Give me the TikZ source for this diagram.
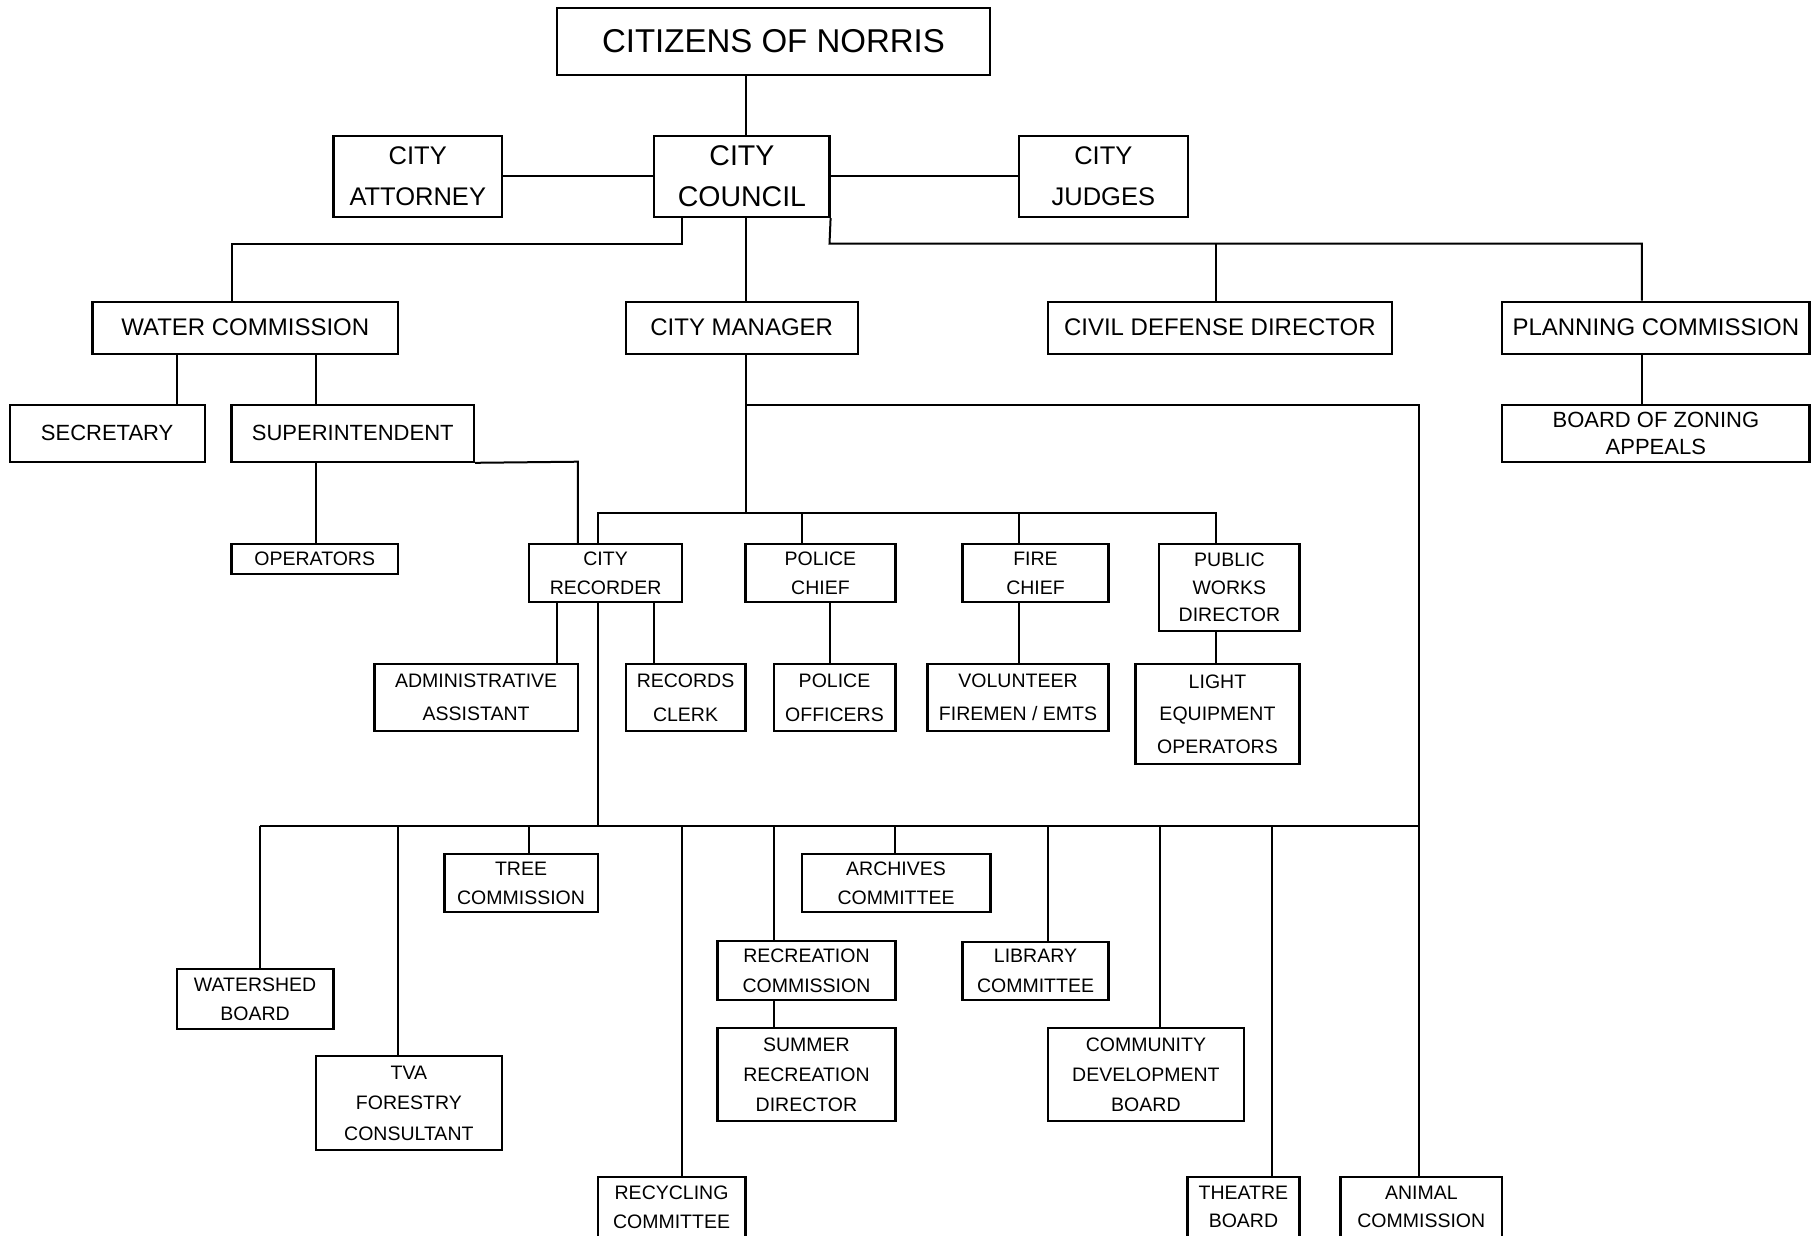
\documentclass[tikz,border=0pt]{standalone}
\usepackage{fontspec}
\setmainfont{Liberation Sans}
\newcommand{\orgbox}[8]{%
  \pgfmathsetmacro{\obcx}{(#2+#4)/2}%
  \pgfmathsetmacro{\obcy}{(#3+#5)/2}%
  \pgfmathsetmacro{\obw}{#4-#2}%
  \pgfmathsetmacro{\obh}{#5-#3}%
  \node[box, minimum width=\obw pt, minimum height=\obh pt, font=\fontsize{#6}{#7}\selectfont] (#1) at (\obcx,\obcy) {#8};}
\begin{document}
\begin{tikzpicture}[x=1pt,y=-1pt,
  box/.style={draw, line width=2.2pt, inner sep=0pt, align=center, rectangle},
  conn/.style={line width=2pt}]
\useasboundingbox (0,0) rectangle (1816,1235);
% ---------- boxes ----------
\orgbox{citizens}{557}{8}{990}{75}{33}{40}{CITIZENS OF NORRIS}
\orgbox{attorney}{333.5}{135.7}{502}{217}{25.5}{40.5}{CITY\\ATTORNEY}
\orgbox{council}{654.3}{135.7}{829.5}{217}{28.5}{40.7}{CITY\\COUNCIL}
\orgbox{judges}{1018.6}{135.7}{1188}{217}{25.5}{40.5}{CITY\\JUDGES}
\orgbox{water}{92.5}{301.7}{398}{353.7}{24}{29}{WATER COMMISSION}
\orgbox{manager}{625.6}{301.7}{857.8}{353.7}{24}{29}{CITY MANAGER}
\orgbox{civil}{1047.8}{301.7}{1391.8}{353.7}{24}{29}{CIVIL DEFENSE DIRECTOR}
\orgbox{planning}{1502.2}{301.7}{1809.5}{353.7}{24}{29}{PLANNING COMMISSION}
\orgbox{secretary}{9.6}{405}{204.7}{461.7}{22}{27}{SECRETARY}
\orgbox{super}{231.5}{405}{474}{461.7}{22}{27}{SUPERINTENDENT}
\orgbox{boza}{1502.2}{405}{1809.5}{461.7}{22}{26.6}{BOARD OF ZONING\\APPEALS}
\orgbox{operators}{231.5}{544.3}{398}{574}{19.5}{29}{OPERATORS}
\orgbox{recorder}{529.3}{544.3}{681.8}{602}{19.5}{29}{CITY\\RECORDER}
\orgbox{police}{745.5}{544.3}{895.4}{602}{19.5}{29}{POLICE\\CHIEF}
\orgbox{fire}{962.5}{544.3}{1108.5}{602}{19.5}{29}{FIRE\\CHIEF}
\orgbox{public}{1159.3}{544.3}{1299.5}{631}{19.5}{27.5}{PUBLIC\\WORKS\\DIRECTOR}
\orgbox{admin}{374.4}{664.3}{577.8}{730.7}{19.5}{33}{ADMINISTRATIVE\\ASSISTANT}
\orgbox{records}{625.6}{664.3}{745.5}{730.7}{19.5}{34}{RECORDS\\CLERK}
\orgbox{officers}{773.6}{664.3}{895.4}{730.7}{19.5}{34}{POLICE\\OFFICERS}
\orgbox{volunteer}{927.5}{664.3}{1108.5}{730.7}{19.5}{33}{VOLUNTEER\\FIREMEN / EMTS}
\orgbox{light}{1135.4}{664.3}{1299.5}{764}{19.5}{32.5}{LIGHT\\EQUIPMENT\\OPERATORS}
\orgbox{tree}{444.5}{854.3}{597.6}{912}{19.5}{29}{TREE\\COMMISSION}
\orgbox{archives}{801.7}{854.3}{990.4}{912}{19.5}{29}{ARCHIVES\\COMMITTEE}
\orgbox{watershed}{176.7}{969.3}{333.5}{1029}{19.5}{29}{WATERSHED\\BOARD}
\orgbox{recreation}{717.5}{941.3}{895.4}{1000}{19.5}{30}{RECREATION\\COMMISSION}
\orgbox{library}{962.5}{941.7}{1108.5}{1000}{19.5}{30}{LIBRARY\\COMMITTEE}
\orgbox{tva}{315.7}{1056.3}{502}{1150}{19.5}{30.5}{TVA\\FORESTRY\\CONSULTANT}
\orgbox{summer}{717.5}{1028.3}{895.4}{1121}{19.5}{30}{SUMMER\\RECREATION\\DIRECTOR}
\orgbox{community}{1047.8}{1028.3}{1244}{1121}{19.5}{30}{COMMUNITY\\DEVELOPMENT\\BOARD}
\orgbox{recycling}{597.6}{1177.3}{745.5}{1237}{19.5}{28.4}{RECYCLING\\COMMITTEE}
\orgbox{theatre}{1187.4}{1177.3}{1299.5}{1237}{19.5}{28.4}{THEATRE\\BOARD}
\orgbox{animal}{1340.4}{1177.3}{1502.2}{1237}{19.5}{28.4}{ANIMAL\\COMMISSION}
% ---------- guide coordinates ----------
\coordinate (cX) at (745.5,0);
\coordinate (k1) at (681.8,243.7);
\coordinate (k2) at (231.5,243.7);
\coordinate (k3) at (829.5,243.7);
\coordinate (k4) at (1641.8,243.7);
\coordinate (k5) at (1216,243.7);
\coordinate (xSec) at (176.7,0);
\coordinate (xSup) at (315.7,0);
\coordinate (k6) at (577.8,461.7);
\coordinate (k7) at (745.5,512.7);
\coordinate (k8) at (597.6,512.7);
\coordinate (k9) at (1216,512.7);
\coordinate (xPol) at (801.7,0);
\coordinate (xFir) at (1018.6,0);
\coordinate (k10) at (745.5,405);
\coordinate (k11) at (1419.3,405);
\coordinate (xAdm) at (556.8,0);
\coordinate (xRec) at (653.7,0);
\coordinate (xOff) at (829.7,0);
\coordinate (d0) at (597.6,825.7);
\coordinate (dW) at (259.6,825.7);
\coordinate (dT) at (398,825.7);
\coordinate (dTr) at (528.7,825.7);
\coordinate (dRy) at (681.8,825.7);
\coordinate (dRc) at (773.6,825.7);
\coordinate (dAr) at (895.4,825.7);
\coordinate (dLi) at (1047.8,825.7);
\coordinate (dCo) at (1160,825.7);
\coordinate (dTh) at (1271.5,825.7);
\coordinate (dAn) at (1419.3,825.7);
% ---------- connectors ----------
\draw[conn] (citizens.south -| cX) -- (council.north -| cX);
\draw[conn] (attorney.east) -- (council.west);
\draw[conn] (council.east) -- (judges.west);
\draw[conn] (k1 |- council.south) -- (k1) -- (k2) -- (k2 |- water.north);
\draw[conn] (council.south -| cX) -- (manager.north -| cX);
\draw[conn] (council.south east) -- (k3) -- (k4) -- (k4 |- planning.north);
\draw[conn] (k5) -- (k5 |- civil.north);
\draw[conn] (planning.south -| k4) -- (boza.north -| k4);
\draw[conn] (water.south -| xSec) -- (secretary.north -| xSec);
\draw[conn] (water.south -| xSup) -- (super.north -| xSup);
\draw[conn] (super.south -| xSup) -- (operators.north -| xSup);
\draw[conn] (super.south east) -- (k6) -- (k6 |- recorder.north);
\draw[conn] (manager.south -| cX) -- (k7);
\draw[conn] (k8 |- recorder.north) -- (k8) -- (k9) -- (k9 |- public.north);
\draw[conn] (xPol |- k8) -- (xPol |- police.north);
\draw[conn] (xFir |- k8) -- (xFir |- fire.north);
\draw[conn] (k10) -- (k11) -- (k11 |- animal.north);
\draw[conn] (recorder.south -| xAdm) -- (admin.north -| xAdm);
\draw[conn] (recorder.south -| xRec) -- (records.north -| xRec);
\draw[conn] (recorder.south -| d0) -- (d0);
\draw[conn] (police.south -| xOff) -- (officers.north -| xOff);
\draw[conn] (fire.south -| xFir) -- (volunteer.north -| xFir);
\draw[conn] (public.south -| k9) -- (light.north -| k9);
\draw[conn] (dW) -- (dAn);
\draw[conn] (dW) -- (dW |- watershed.north);
\draw[conn] (dT) -- (dT |- tva.north);
\draw[conn] (dTr) -- (dTr |- tree.north);
\draw[conn] (dRy) -- (dRy |- recycling.north);
\draw[conn] (dRc) -- (dRc |- recreation.north);
\draw[conn] (recreation.south -| dRc) -- (summer.north -| dRc);
\draw[conn] (dAr) -- (dAr |- archives.north);
\draw[conn] (dLi) -- (dLi |- library.north);
\draw[conn] (dCo) -- (dCo |- community.north);
\draw[conn] (dTh) -- (dTh |- theatre.north);
\end{tikzpicture}
\end{document}
